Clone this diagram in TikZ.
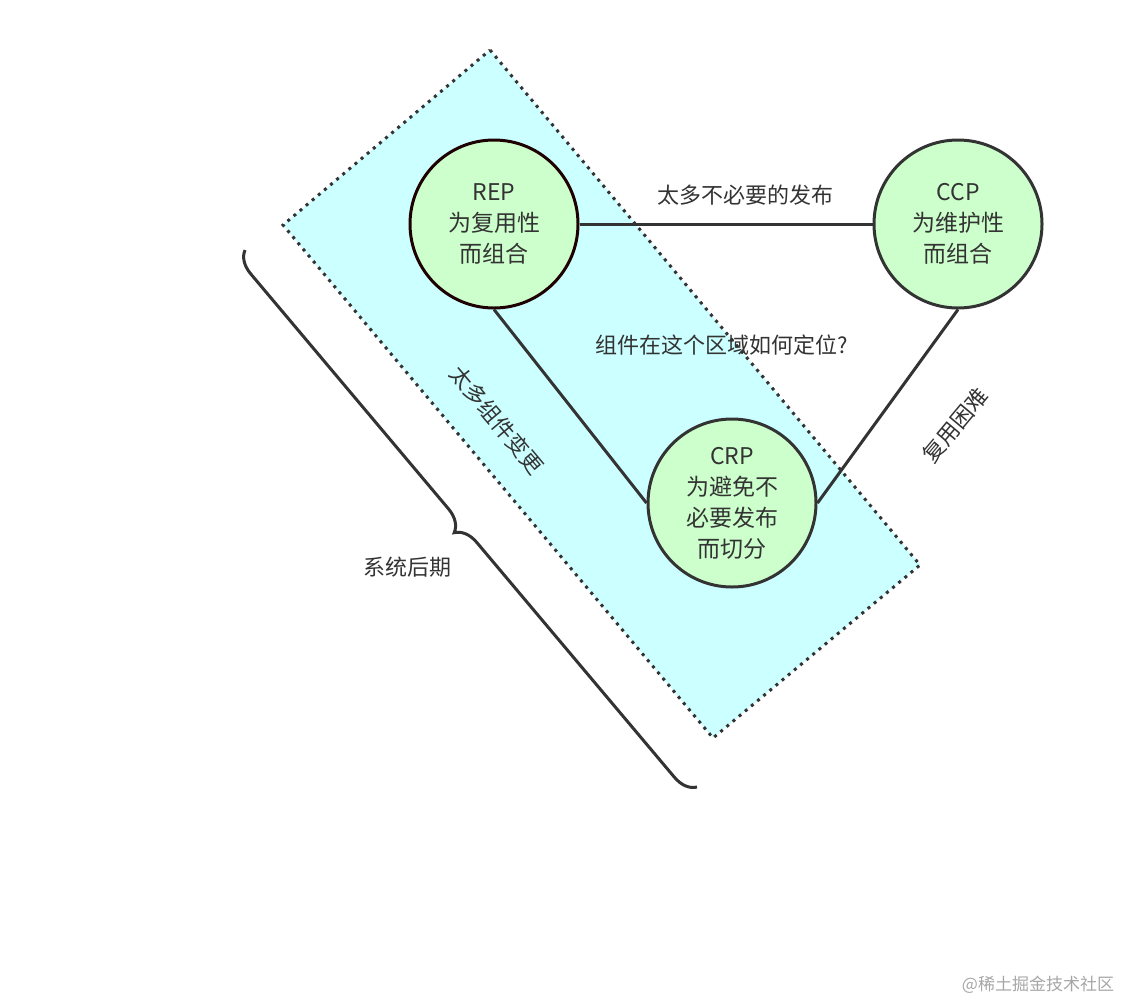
\documentclass[tikz,border=0pt]{standalone}
\usepackage{fontspec}
\setmainfont{Noto Sans CJK SC}
\usetikzlibrary{decorations.pathreplacing}
\definecolor{cy}{HTML}{CCFFFF}
\definecolor{gr}{HTML}{CCFFCC}
\definecolor{dk}{HTML}{333333}
\begin{document}
\begin{tikzpicture}[x=1pt,y=-1pt,
  circ/.style={circle,minimum size=168pt,inner sep=0pt,fill=gr,draw=dk,line width=3pt,align=center,font=\fontsize{23}{31}\selectfont,text=dk},
  lbl/.style={font=\fontsize{22}{28}\selectfont,text=dk},
  ln/.style={draw=dk,line width=3pt}]
\useasboundingbox (0,0) rectangle (1124,1002);
\coordinate (r1) at (490,50); \coordinate (r2) at (920,565);
\coordinate (r3) at (713,738); \coordinate (r4) at (283,225);
\fill[cy] (r1)--(r2)--(r3)--(r4)--cycle;
\draw[dk,line width=3pt,dash pattern=on 3pt off 5pt] (r1)--(r2)--(r3)--(r4)--cycle;
\node[circ,draw=black!80!red!60!black] (rep) at (494,224) {REP\\为复用性\\而组合};
\node[circ] (ccp) at (958,224) {CCP\\为维护性\\而组合};
\node[circ] (crp) at (732,503) {CRP\\为避免不\\必要发布\\而切分};
\draw[ln] (rep.east)--(ccp.west);
\draw[ln] (rep.south)--(crp.west);
\draw[ln] (ccp.south)--(crp.east);
\node[lbl] (t1) at (745,195) {太多不必要的发布};
\node[lbl] (t2) at (722,345) {组件在这个区域如何定位?};
\node[lbl,rotate=-50] (t3) at (497,420) {太多组件变更};
\node[lbl,rotate=50] (t4) at (955,425) {复用困难};
\node[lbl] (t5) at (407,567) {系统后期};
\node[font=\fontsize{17}{20}\selectfont,text=gray!70] (wm) at (1038,985) {@稀土掘金技术社区};
\coordinate (b1) at (697,787); \coordinate (b2) at (245,250);
\draw[dk,line width=3pt,decorate,decoration={brace,amplitude=22pt,aspect=0.5}] (b1)--(b2);
\end{tikzpicture}
\end{document}
